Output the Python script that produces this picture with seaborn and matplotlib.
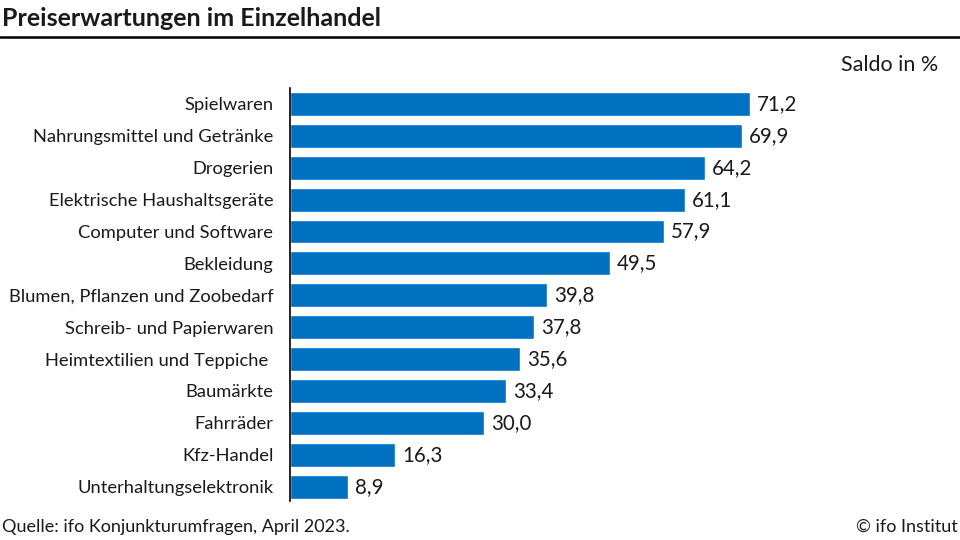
import matplotlib
matplotlib.use("Agg")
import matplotlib.pyplot as plt
import seaborn as sns
import pandas as pd
from matplotlib.lines import Line2D

categories = [
    "Spielwaren",
    "Nahrungsmittel und Getränke",
    "Drogerien",
    "Elektrische Haushaltsgeräte",
    "Computer und Software",
    "Bekleidung",
    "Blumen, Pflanzen und Zoobedarf",
    "Schreib- und Papierwaren",
    "Heimtextilien und Teppiche ",
    "Baumärkte",
    "Fahrräder",
    "Kfz-Handel",
    "Unterhaltungselektronik",
]
values = [71.2, 69.9, 64.2, 61.1, 57.9, 49.5, 39.8, 37.8, 35.6, 33.4, 30.0, 16.3, 8.9]

title = "Preiserwartungen im Einzelhandel"
unit_label = "Saldo in %"
source = "Quelle: ifo Konjunkturumfragen, April 2023."
copyright_txt = "© ifo Institut"

sns.set_theme(style="white")
plt.rcParams["font.family"] = ["Lato", "DejaVu Sans"]

df = pd.DataFrame({"cat": categories, "val": values})

W, H = 960, 540
fig = plt.figure(figsize=(9.6, 5.4), dpi=100)
ax = fig.add_axes([290 / W, 1 - 501 / H, 517 / W, 413 / H])

sns.barplot(data=df, x="val", y="cat", color="#0070C0", saturation=1,
            width=0.75, ax=ax, orient="h")
ax.set_xlim(0, 80)
ax.set_ylim(12.45, -0.5)
ax.set_xlabel("")
ax.set_ylabel("")
ax.set_xticks([])
for s in ["top", "right", "bottom"]:
    ax.spines[s].set_visible(False)
ax.spines["left"].set_color("black")
ax.spines["left"].set_linewidth(1.2)
ax.tick_params(axis="y", length=0, pad=12, labelsize=13.2, labelcolor="#1a1a1a")

for i, v in enumerate(values):
    ax.text(v + 1.1, i, f"{v:.1f}".replace(".", ","), va="center", ha="left",
            fontsize=14.8, color="#1a1a1a")

fig.text(2 / W, 1 - 18 / H, title, fontsize=18, fontweight="bold",
         va="center", ha="left", color="#1a1a1a")
fig.add_artist(Line2D([0, 1], [1 - 37 / H, 1 - 37 / H], color="black", lw=1.8,
                      transform=fig.transFigure))
fig.text(938 / W, 1 - 65 / H, unit_label, fontsize=15.5, va="center", ha="right",
         color="#1a1a1a")
fig.text(2 / W, 1 - 527 / H, source, fontsize=13, va="center", ha="left",
         color="#1a1a1a")
fig.text(958 / W, 1 - 527 / H, copyright_txt, fontsize=13, va="center", ha="right",
         color="#1a1a1a")

fig.savefig("out.png", dpi=100)
